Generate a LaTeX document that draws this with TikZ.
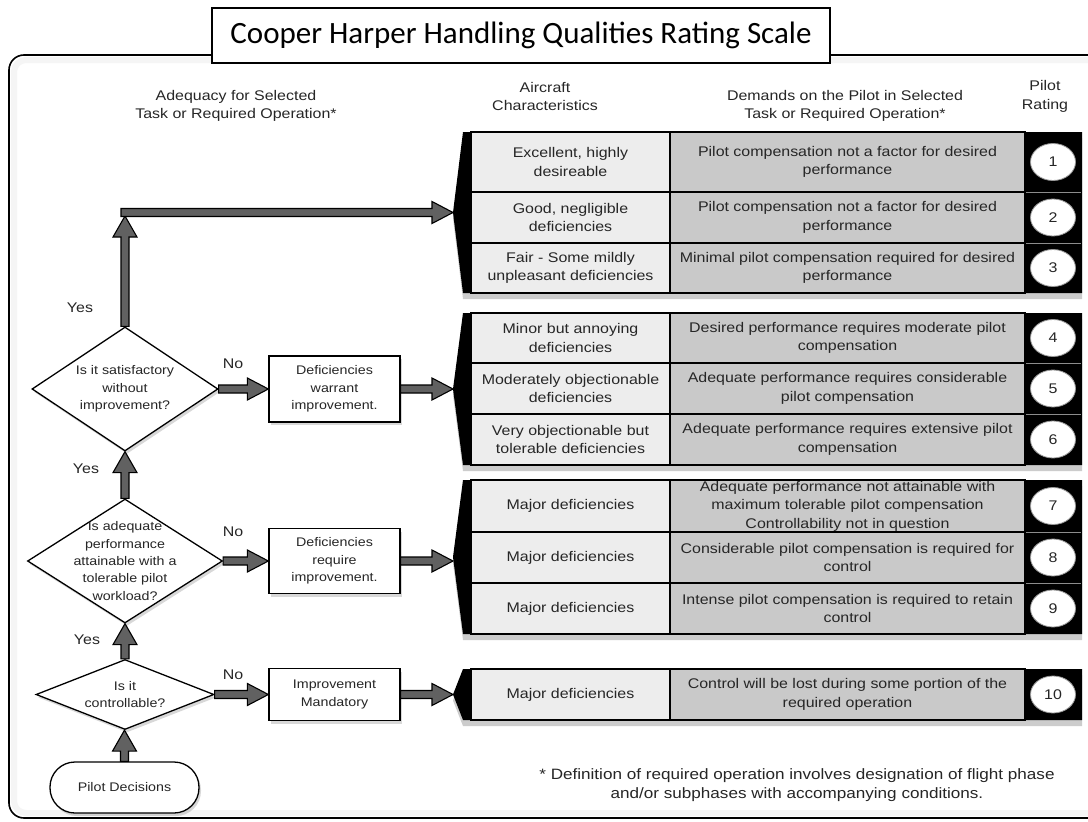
\documentclass[tikz,border=0pt]{standalone}
\usepackage{fontspec}
\setmainfont{Liberation Sans}[FakeStretch=1.14]
\newfontfamily\titlefont{Carlito}
\usetikzlibrary{shapes.geometric,shadows,calc}

\tikzset{
  txt/.style={font=\fontsize{14}{18.5}\selectfont, align=center, text=black!85, inner sep=0pt},
  flowtxt/.style={font=\fontsize{12.5}{17.4}\selectfont, align=center, text=black!85, inner sep=0pt},
  lbl/.style={font=\fontsize{14}{16}\selectfont, text=black!85, inner sep=0pt},
  titlebox/.style={draw, line width=1.5pt, fill=white, minimum width=618pt, minimum height=55pt,
    font=\titlefont\fontsize{31}{36}\selectfont},
  charcell/.style={txt, draw=black, line width=1.2pt, fill=black!7, minimum width=199pt},
  demcell/.style={txt, draw=black, line width=1.2pt, fill=black!21, minimum width=355pt},
  ratecirc/.style={ellipse, fill=white, draw=black!40, line width=0.8pt, minimum width=45pt,
    minimum height=37pt, inner sep=0pt, font=\fontsize{14}{16}\selectfont, text=black!85},
  ratesep/.style={black!45, line width=1pt},
  flowshadow/.style={drop shadow={opacity=0.3, shadow xshift=2pt, shadow yshift=-3pt}},
  decision/.style={diamond, draw=black, line width=1.3pt, fill=white, inner sep=0pt, flowshadow},
  procbox/.style={flowtxt, rectangle, draw=black, line width=1.3pt, fill=white, minimum width=131pt, flowshadow},
  startbox/.style={flowtxt, rectangle, rounded corners=25pt, draw=black, line width=1.3pt, fill=white,
    minimum width=149pt, minimum height=51pt, flowshadow},
  fatarrow/.style={fill=black!62, draw=black, line width=1.1pt, line join=miter},
  harr/.style={to path={let \p1=(\tikztostart), \p2=(\tikztotarget) in
    (\x1,\y1+4pt) -- (\x2-21pt,\y1+4pt) -- (\x2-21pt,\y1+11pt) -- (\x2,\y1)
    -- (\x2-21pt,\y1-11pt) -- (\x2-21pt,\y1-4pt) -- (\x1,\y1-4pt) -- cycle}},
  varr/.style={to path={let \p1=(\tikztostart), \p2=(\tikztotarget) in
    (\x1-4pt,\y1) -- (\x1-4pt,\y2-21pt) -- (\x1-12pt,\y2-21pt) -- (\x1,\y2)
    -- (\x1+12pt,\y2-21pt) -- (\x1+4pt,\y2-21pt) -- (\x1+4pt,\y1) -- cycle}},
}

\begin{document}
\begin{tikzpicture}[x=1pt,y=-1pt]
  \path[use as bounding box] (0,0) rectangle (1088,822);
  \fill[white] (0,0) rectangle (1088,822);
  \clip (0,0) rectangle (1088,822);

  % outer frame and title
  \draw[black!4, line width=6pt, rounded corners=12pt] (1100,60) -- (14,60) -- (14,813) -- (1100,813);
  \draw[line width=1.6pt, rounded corners=15pt] (1100,55) -- (9,55) -- (9,818) -- (1100,818);
  \node[titlebox] (title) at (521,35.5) {Cooper Harper Handling Qualities Rating Scale};

  % column heads
  \node[txt] (hAdeq) at (236,106) {Adequacy for Selected\\Task or Required Operation*};
  \node[txt] (hChar) at (545,96.5) {Aircraft\\Characteristics};
  \node[txt] (hDem) at (845,106) {Demands on the Pilot in Selected\\Task or Required Operation*};
  \node[txt] (hRate) at (1045,96.5) {Pilot\\Rating};

  % black brackets behind the rating blocks
  \foreach \t/\b in {132/293, 313/465, 480/634, 669/720} {
    \fill[black, drop shadow={shadow xshift=0pt, shadow yshift=-6pt, opacity=0.4}]
      (1082,\t) -- (463,\t) -- (453,{(\t+\b)/2}) -- (463,\b) -- (1082,\b) -- cycle;
  }
  \coordinate (blk1) at (453,212.5);
  \coordinate (blk2) at (453,389);
  \coordinate (blk3) at (453,557);
  \coordinate (blk4) at (453,694.5);

  \foreach \k/\t/\b/\ch/\dm in {
    1/132/192/{Excellent, highly\\desireable}/{Pilot compensation not a factor for desired\\performance},
    2/192/243/{Good, negligible\\deficiencies}/{Pilot compensation not a factor for desired\\performance},
    3/243/293/{Fair - Some mildly\\unpleasant deficiencies}/{Minimal pilot compensation required for desired\\performance},
    4/313/363/{Minor but annoying\\deficiencies}/{Desired performance requires moderate pilot\\compensation},
    5/363/414/{Moderately objectionable\\deficiencies}/{Adequate performance requires considerable\\pilot compensation},
    6/414/465/{Very objectionable but\\tolerable deficiencies}/{Adequate performance requires extensive pilot\\compensation},
    7/480/532/{Major deficiencies}/{Adequate performance not attainable with\\maximum tolerable pilot compensation\\Controllability not in question},
    8/532/583/{Major deficiencies}/{Considerable pilot compensation is required for\\control},
    9/583/634/{Major deficiencies}/{Intense pilot compensation is required to retain\\control},
    10/669/720/{Major deficiencies}/{Control will be lost during some portion of the\\required operation}} {
    \node[charcell, minimum height={(\b-\t)*1pt}] (ch\k) at (570.5,{(\t+\b)/2}) {\ch};
    \node[demcell, minimum height={(\b-\t)*1pt}] (dm\k) at (847.5,{(\t+\b)/2}) {\dm};
    \node[ratecirc] (rt\k) at (1053,{(\t+\b)/2}) {\k};
  }
  \foreach \y in {192,243,363,414,532,583}
    \draw[ratesep] (1026,\y) -- (1081,\y);

  % decision flow
  \node[decision, minimum width=186pt, minimum height=124pt] (d1) at (125,389) {};
  \node[flowtxt] (q1) at (d1) {Is it satisfactory\\without\\improvement?};
  \node[decision, minimum width=195pt, minimum height=124pt] (d2) at (125,561) {};
  \node[flowtxt] (q2) at (d2) {Is adequate\\performance\\attainable with a\\tolerable pilot\\workload?};
  \node[decision, minimum width=178pt, minimum height=70pt] (d3) at (125,694.5) {};
  \node[flowtxt] (q3) at (d3) {Is it\\controllable?};

  \node[procbox, minimum height=66pt] (p1) at (334.5,389) {Deficiencies\\warrant\\improvement.};
  \node[procbox, minimum height=65pt] (p2) at (334.5,561) {Deficiencies\\require\\improvement.};
  \node[procbox, minimum height=52pt] (p3) at (334.5,694.5) {Improvement\\Mandatory};
  \node[startbox] (pd) at (124.5,787.5) {Pilot Decisions};

  \node[lbl] (yes1) at (80,308) {Yes};
  \node[lbl] (yes2) at (86,469) {Yes};
  \node[lbl] (yes3) at (87,640) {Yes};
  \node[lbl] (no1) at (233,364) {No};
  \node[lbl] (no2) at (233,532) {No};
  \node[lbl] (no3) at (233,675) {No};

  % fat arrows
  \coordinate (upend) at (125,216);
  \coordinate (corner) at (121,212.5);
  \draw[fatarrow] (d1.north) to[varr] (upend);
  \draw[fatarrow] (corner) to[harr] (blk1);
  \draw[fatarrow] (d1.east) to[harr] (p1.west);
  \draw[fatarrow] (p1.east) to[harr] (blk2);
  \draw[fatarrow] (d2.north) to[varr] (d1.south);
  \draw[fatarrow] (d2.east) to[harr] (p2.west);
  \draw[fatarrow] (p2.east) to[harr] (blk3);
  \draw[fatarrow] (d3.north) to[varr] (d2.south);
  \draw[fatarrow] (d3.east) to[harr] (p3.west);
  \draw[fatarrow] (p3.east) to[harr] (blk4);
  \draw[fatarrow] (pd.north) to[varr] (d3.south);

  \node[txt, font=\fontsize{15}{19.5}\selectfont] (note) at (797,785) {* Definition of required operation involves designation of flight phase\\and/or subphases with accompanying conditions.};
\end{tikzpicture}
\end{document}
